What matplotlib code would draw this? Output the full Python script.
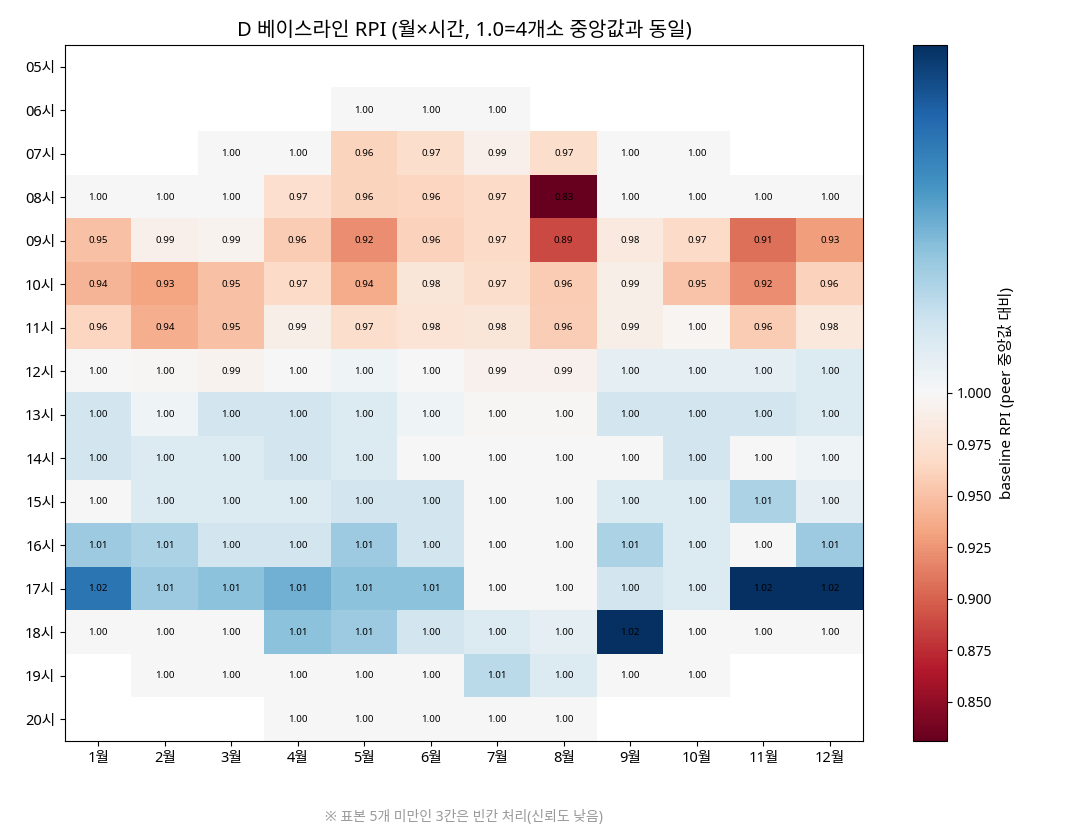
import matplotlib
matplotlib.use('Agg')
import matplotlib.pyplot as plt
from matplotlib.colors import TwoSlopeNorm
import numpy as np

# Latin glyphs from Noto Sans, Hangul falls through to the CJK family
plt.rcParams['font.family'] = ['Noto Sans', 'Noto Sans CJK KR', 'DejaVu Sans']
plt.rcParams['axes.unicode_minus'] = False

# Rows = hour of day, columns = month
hours = ['05시', '06시', '07시', '08시', '09시', '10시', '11시', '12시',
         '13시', '14시', '15시', '16시', '17시', '18시', '19시', '20시']
months = ['1월', '2월', '3월', '4월', '5월', '6월', '7월', '8월',
          '9월', '10월', '11월', '12월']

nan = np.nan
h05 = [nan] * 12
h06 = [nan, nan, nan, nan, 1.000, 1.000, 1.000, nan, nan, nan, nan, nan]
h07 = [nan, nan, 1.000, 1.000, 0.962, 0.970, 0.992, 0.970, 1.000, 1.000, nan, nan]
h08 = [1.000, 1.000, 1.000, 0.972, 0.962, 0.964, 0.968, 0.831, 1.000, 1.000, 1.000, 1.000]
h09 = [0.950, 0.992, 0.994, 0.957, 0.921, 0.961, 0.968, 0.889, 0.984, 0.968, 0.907, 0.930]
h10 = [0.942, 0.933, 0.950, 0.968, 0.937, 0.979, 0.970, 0.957, 0.990, 0.952, 0.921, 0.961]
h11 = [0.964, 0.938, 0.950, 0.990, 0.970, 0.977, 0.980, 0.959, 0.990, 0.997, 0.957, 0.982]
h12 = [1.000, 0.998, 0.994, 1.000, 1.001, 1.000, 0.993, 0.993, 1.002, 1.002, 1.002, 1.003]
h13 = [1.004, 1.001, 1.004, 1.004, 1.003, 1.001, 0.998, 0.998, 1.004, 1.004, 1.004, 1.003]
h14 = [1.004, 1.003, 1.003, 1.004, 1.003, 1.000, 1.000, 0.999, 1.000, 1.004, 0.999, 1.001]
h15 = [1.000, 1.003, 1.003, 1.003, 1.004, 1.004, 1.000, 1.000, 1.003, 1.003, 1.007, 1.002]
h16 = [1.008, 1.007, 1.004, 1.004, 1.008, 1.004, 1.000, 1.000, 1.007, 1.003, 1.000, 1.008]
h17 = [1.016, 1.008, 1.009, 1.0105, 1.009, 1.009, 0.999, 0.999, 1.004, 1.003, 1.022, 1.022]
h18 = [1.000, 1.000, 1.000, 1.009, 1.008, 1.004, 1.003, 1.002, 1.022, 1.000, 1.000, 1.000]
h19 = [nan, 1.000, 1.000, 1.000, 1.000, 1.000, 1.006, 1.003, 1.000, 1.000, nan, nan]
h20 = [nan, nan, nan, 1.000, 1.000, 1.000, 1.000, 1.000, nan, nan, nan, nan]

grid = np.array([h05, h06, h07, h08, h09, h10, h11, h12,
                 h13, h14, h15, h16, h17, h18, h19, h20])

fig = plt.figure(figsize=(10.8, 8.4), dpi=100)
ax = fig.add_axes([65 / 1080, 99 / 840, 798 / 1080, 696 / 840])
cax = fig.add_axes([913 / 1080, 99 / 840, 34 / 1080, 696 / 840])

norm = TwoSlopeNorm(vmin=np.nanmin(grid), vcenter=1.0, vmax=np.nanmax(grid))
im = ax.imshow(grid, cmap='RdBu', norm=norm, aspect='auto', interpolation='nearest')

# value labels in each filled cell
for i in range(grid.shape[0]):
    for j in range(grid.shape[1]):
        v = grid[i, j]
        if not np.isnan(v):
            ax.text(j, i, f'{v:.2f}', ha='center', va='center', fontsize=7, color='black')

ax.set_xticks(range(len(months)))
ax.set_xticklabels(months, fontsize=10.5)
ax.set_yticks(range(len(hours)))
ax.set_yticklabels(hours, fontsize=10.5)
ax.set_title('D 베이스라인 RPI (월×시간, 1.0=4개소 중앙값과 동일)', fontsize=14.5, pad=6)

cb = fig.colorbar(im, cax=cax)
cb.set_label('baseline RPI (peer 중앙값 대비)', fontsize=11)
cb.ax.tick_params(labelsize=10)

fig.text(464 / 1080, 1 - 818 / 840, '※ 표본 5개 미만인 3칸은 빈칸 처리(신뢰도 낮음)',
         ha='center', va='center', fontsize=10, color='#999999')

fig.savefig('out.png', dpi=100, facecolor='white')
